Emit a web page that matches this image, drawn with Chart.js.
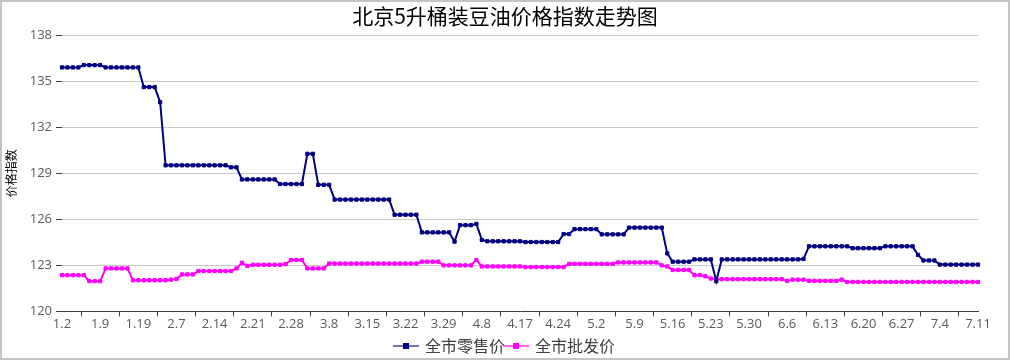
<!DOCTYPE html>
<html><head><meta charset="utf-8">
<script src="https://cdn.jsdelivr.net/npm/chart.js@4.4.1/dist/chart.umd.min.js"></script>
<style>
html,body{margin:0;padding:0;background:#fff;}
#wrap{position:relative;width:1010px;height:360px;}
#frame{position:absolute;left:0;top:0;width:1010px;height:360px;box-sizing:border-box;border:2px solid #c4c4c4;pointer-events:none;}
canvas{display:block;}
</style></head>
<body>
<div id="wrap"><canvas id="c" width="1010" height="360"></canvas><div id="frame"></div></div>
<script>
const titleText = '北京5升桶装豆油价格指数走势图';
const yTitle = '价格指数';
const seriesNames = ['全市零售价', '全市批发价'];
const tickLabels = ['1.2','1.9','1.19','2.7','2.14','2.21','2.28','3.8','3.15','3.22','3.29','4.8','4.17','4.24','5.2','5.9','5.16','5.23','5.30','6.6','6.13','6.20','6.27','7.4','7.11'];
const pointsPerLabel = 7;

const retail = [
135.9,135.9,135.9,135.9,
136.05,136.05,136.05,136.05,
135.9,135.9,135.9,135.9,135.9,135.9,135.9,
134.62,134.62,134.62,
133.64,
129.52,129.52,129.52,129.52,129.52,129.52,129.52,129.52,129.52,129.52,129.52,129.52,
129.39,129.39,
128.6,128.6,128.6,128.6,128.6,128.6,128.6,
128.3,128.3,128.3,128.3,128.3,
130.27,130.27,
128.25,128.25,128.25,
127.29,127.29,127.29,127.29,127.29,127.29,127.29,127.29,127.29,127.29,127.29,
126.3,126.3,126.3,126.3,126.3,
125.15,125.15,125.15,125.15,125.15,125.15,
124.55,
125.62,125.62,125.62,
125.7,
124.66,
124.57,124.57,124.57,124.57,124.57,124.57,124.57,
124.52,124.52,124.52,124.52,124.52,124.52,124.52,
125.04,125.04,
125.36,125.36,125.36,125.36,125.36,
125.02,125.02,125.02,125.02,125.02,
125.46,125.46,125.46,125.46,125.46,125.46,125.46,
123.78,
123.24,123.24,123.24,123.24,
123.39,123.39,123.39,123.39,
121.97,
123.39,123.39,123.39,123.39,123.39,123.39,123.39,123.39,123.39,123.39,123.39,123.39,123.39,123.39,123.39,
123.42,
124.24,124.24,124.24,124.24,124.24,124.24,124.24,124.24,
124.12,124.12,124.12,124.12,124.12,124.12,
124.24,124.24,124.24,124.24,124.24,124.24,
123.68,
123.32,123.32,123.32,
123.05,123.05,123.05,123.05,123.05,123.05,123.05,123.05
];

const wholesale = [
122.36,122.36,122.36,122.36,122.36,
121.97,121.97,121.97,
122.8,122.8,122.8,122.8,122.8,
122.03,122.03,122.03,122.03,122.03,122.03,122.03,
122.07,
122.12,
122.41,122.41,122.41,
122.63,122.63,122.63,122.63,122.63,122.63,122.63,
122.8,
123.17,
122.97,
123.04,123.04,123.04,123.04,123.04,123.04,
123.08,
123.35,123.35,123.35,
122.8,122.8,122.8,122.8,
123.12,123.12,123.12,123.12,123.12,123.12,123.12,123.12,123.12,123.12,123.12,123.12,123.12,123.12,123.12,123.12,123.12,
123.24,123.24,123.24,123.24,
123.0,123.0,123.0,123.0,123.0,123.0,
123.35,
122.93,122.93,122.93,122.93,122.93,122.93,122.93,122.93,
122.89,122.89,122.89,122.89,122.89,122.89,122.89,122.89,
123.1,123.1,123.1,123.1,123.1,123.1,123.1,123.1,123.1,
123.19,123.19,123.19,123.19,123.19,123.19,123.19,123.19,
123.0,
122.93,
122.7,122.7,122.7,122.7,
122.36,122.36,
122.29,
122.14,
122.1,122.1,122.1,122.1,122.1,122.1,122.1,122.1,122.1,122.1,122.1,122.1,122.1,
121.99,
122.07,122.07,122.07,
121.99,121.99,121.99,121.99,121.99,121.99,
122.07,
121.92,121.92,121.92,121.92,121.92,121.92,121.92,121.92,121.92,121.92,121.92,121.92,121.92,121.92,121.92,121.92,121.92,121.92,121.92,121.92,121.92,121.92,121.92,121.92,121.92
];

const yMin = 120, yMax = 138, yStep = 3;
const colors = ['#000080', '#ff00ff'];
const legendLineColors = ['rgba(0,0,128,0.55)', 'rgba(255,0,255,0.6)'];

const categories = retail.map((_, i) => String(i));

function legendIcon(lineColor, boxColor) {
  const c = document.createElement('canvas');
  c.width = 26; c.height = 10;
  const g = c.getContext('2d');
  g.strokeStyle = lineColor; g.lineWidth = 2;
  g.beginPath(); g.moveTo(0, 5); g.lineTo(26, 5); g.stroke();
  g.fillStyle = boxColor; g.fillRect(10, 2, 6, 6);
  return c;
}
const icons = [legendIcon(legendLineColors[0], colors[0]), legendIcon(legendLineColors[1], colors[1])];

const tickFont = {family: "'Open Sans', 'Noto Sans', sans-serif", size: 13};
const cjkFont = "'Noto Sans CJK SC', sans-serif";

new Chart(document.getElementById('c'), {
  type: 'line',
  data: {
    labels: categories,
    datasets: [
      {label: seriesNames[0], data: retail, borderColor: colors[0], backgroundColor: colors[0],
       borderWidth: 2, pointStyle: 'rect', pointRadius: 2.3, pointBorderWidth: 1, tension: 0},
      {label: seriesNames[1], data: wholesale, borderColor: colors[1], backgroundColor: colors[1],
       borderWidth: 2, pointStyle: 'rect', pointRadius: 2.3, pointBorderWidth: 1, tension: 0}
    ]
  },
  options: {
    responsive: false,
    animation: false,
    layout: {padding: {left: 4, right: 4, top: 2, bottom: -4}},
    plugins: {
      title: {display: true, text: titleText, color: '#000', font: {family: cjkFont, size: 21, weight: 'normal', lineHeight: 1.2}, padding: {top: 1, bottom: 7}},
      tooltip: {enabled: false},
      legend: {
        position: 'bottom',
        labels: {
          color: '#404040', font: {family: cjkFont, size: 16}, usePointStyle: true, pointStyleWidth: 22, boxHeight: 10, padding: 0,
          generateLabels: (chart) => chart.data.datasets.map((ds, i) => ({
            text: ds.label, pointStyle: icons[i], fillStyle: colors[i], strokeStyle: colors[i], lineWidth: 0, datasetIndex: i, hidden: false, fontColor: '#404040'
          }))
        }
      }
    },
    scales: {
      x: {
        type: 'category',
        offset: false,
        afterFit: (s) => { s.height += 6; },
        grid: {display: true, drawOnChartArea: false, drawTicks: true, tickLength: 5, offset: true,
               tickColor: (ctx) => (ctx.index % pointsPerLabel === 4 ? '#404040' : 'rgba(0,0,0,0)')},
        border: {display: true, color: '#404040', width: 1},
        ticks: {autoSkip: false, maxRotation: 0, minRotation: 0, padding: 0, color: '#595959', font: tickFont,
                callback: (v, i) => (i % pointsPerLabel === 0 ? tickLabels[i / pointsPerLabel] : '')}
      },
      y: {
        min: yMin, max: yMax,
        afterFit: (s) => { s.width = 58; },
        grid: {color: '#c8c8c8', lineWidth: 1, tickLength: 6, tickColor: '#404040'},
        border: {display: false},
        ticks: {stepSize: yStep, padding: 4, color: '#595959', font: tickFont},
        title: {display: true, text: yTitle, color: '#000', font: {family: cjkFont, size: 12}, padding: {top: 0, bottom: 0}}
      },
      ySpacer: {
        position: 'right', display: true,
        afterFit: (s) => { s.width = 28; },
        grid: {display: false}, border: {display: false}, ticks: {display: false}
      }
    }
  }
});
</script>
</body></html>
